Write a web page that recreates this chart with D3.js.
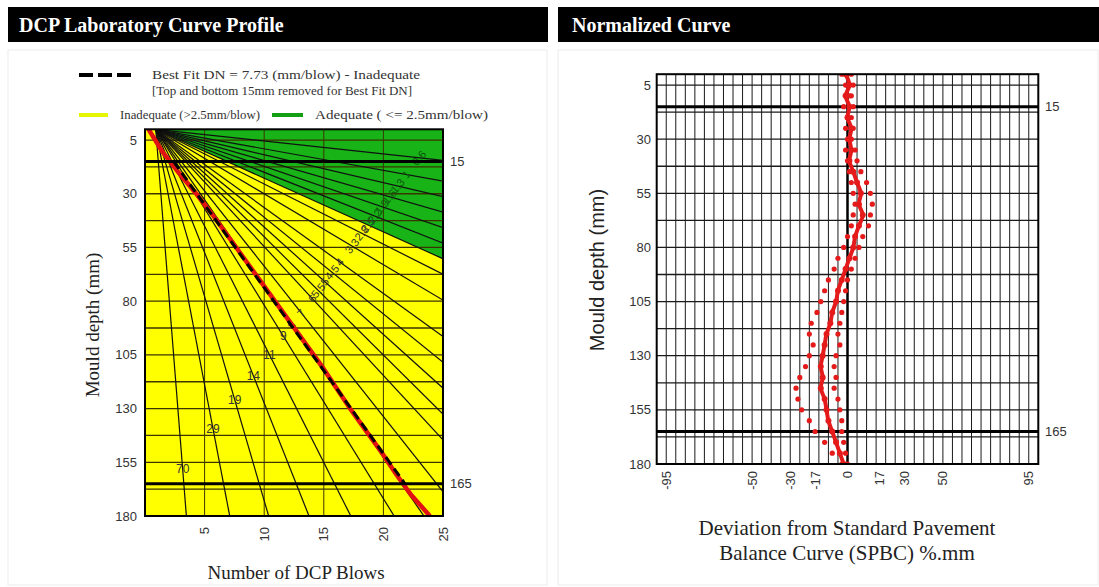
<!DOCTYPE html>
<html>
<head>
<meta charset="utf-8">
<script src="https://cdn.jsdelivr.net/npm/d3@7/dist/d3.min.js"></script>
<style>
  html, body { margin: 0; padding: 0; background: #ffffff; }
  svg { display: block; }
</style>
</head>
<body>
<svg id="chart" width="1099" height="587"></svg>
<script>
// ---- Data -------------------------------------------------------------
// Depth ticks (mm) shared by both panels
const depthTicks = [5, 30, 55, 80, 105, 130, 155, 180];
// Horizontal grid depths (every 12.5 mm)
const gridDepths = [5, 17.5, 30, 42.5, 55, 67.5, 80, 92.5, 105, 117.5, 130, 142.5, 155, 167.5, 180];
// Layer limits used for the best fit
const layerLimits = [15, 165];

// Left panel: number of blows ticks
const blowTicks = [5, 10, 15, 20, 25];
// Measured DCP curve: depth (mm) and cumulative blows
const curveDepth = [0, 10, 20, 30, 40, 50, 60, 70, 80, 90, 100, 110, 120, 130, 140, 150, 160, 170, 180];
const curveBlows = [0.3, 1.4, 2.8, 4.3, 5.7, 7.0, 8.3, 9.6, 10.9, 12.2, 13.5, 14.8, 16.0, 17.2, 18.5, 19.8, 21.0, 22.3, 23.9];
// Best fit penetration rate (mm/blow)
const bestFitDN = 7.73;
// DN reference lines (mm/blow)
const fanDN = [70, 29, 19, 14, 11, 9, 8, 7, 6, 5.5, 5, 4.5, 4, 3.3, 2.8, 2.5, 2.2, 1.9, 1.6, 1.3, 1, 0.6];
const adequateLimitDN = 2.5;

// Right panel: deviation from SPBC
const devTicks = [-95, -50, -30, -17, 0, 17, 30, 50, 95];
const devDepth = [0, 5, 10, 15, 20, 25, 30, 35, 40, 45, 50, 55, 60, 65, 70, 75, 80, 85, 90, 95, 100, 105, 110, 115, 120, 125, 130, 135, 140, 145, 150, 155, 160, 165, 170, 175, 180];
const devMain  = [-1, 1, -1, 1, 0, 2, 1, 2, 1, 3, 5, 7, 6, 8, 6, 4, 3, 1, -1, -3, -5, -6, -8, -9, -11, -12, -13, -14, -13, -14, -12, -11, -10, -8, -6, -4, -2];
const devLow   = [-3, -1, 2, -2, 0, -1, 0, -1, 0, 1, 2, 3, 4, 3, 2, 0, -2, -5, -7, -10, -12, -14, -16, -19, -20, -18, -20, -22, -25, -27, -26, -24, -20, -17, -12, -8, -3];
const devHigh  = [2, 3, 1, 3, 2, 3, 2, 4, 5, 7, 10, 12, 13, 12, 11, 8, 6, 4, 2, 0, -1, -2, -3, -4, -5, -4, -6, -7, -6, -7, -5, -4, -3, -3, -2, -1, 0];

// ---- Setup ------------------------------------------------------------
const svg = d3.select("#chart");
const serif = "'Liberation Serif', 'DejaVu Serif', serif";
const sans = "'Liberation Sans', Arial, sans-serif";

// Panel frames and title bars
const panels = [
  { x: 8, w: 540, title: "DCP Laboratory Curve Profile", tx: 19 },
  { x: 558, w: 541, title: "Normalized Curve", tx: 572 }
];
panels.forEach(p => {
  svg.append("rect").attr("x", p.x).attr("y", 50).attr("width", p.w - 1).attr("height", 535)
    .attr("fill", "none").attr("stroke", "#ececec");
  svg.append("rect").attr("x", p.x).attr("y", 7).attr("width", p.w).attr("height", 35).attr("fill", "#000");
  svg.append("text").attr("x", p.tx).attr("y", 32).text(p.title)
    .attr("fill", "#fff").attr("font-family", serif).attr("font-weight", "bold").attr("font-size", 20);
});

// ---- Left panel: DCP curve profile ------------------------------------
const xL = d3.scaleLinear().domain([0, 25]).range([145, 443]);
const yL = d3.scaleLinear().domain([0, 180]).range([129.3, 516]);
const L = svg.append("g");

L.append("clipPath").attr("id", "clipL").append("rect")
  .attr("x", xL(0)).attr("y", yL(0)).attr("width", xL(25) - xL(0)).attr("height", yL(180) - yL(0));
const plotL = L.append("g").attr("clip-path", "url(#clipL)");

// Zone fills: inadequate (yellow) everywhere, adequate (green) above the limit line
const pivot = 0.9;
plotL.append("rect").attr("x", xL(0)).attr("y", yL(0)).attr("width", xL(25) - xL(0)).attr("height", yL(180) - yL(0))
  .attr("fill", "#ffff00");
plotL.append("path")
  .attr("d", d3.line()([[xL(pivot), yL(0)], [xL(25), yL(adequateLimitDN * (25 - pivot))], [xL(25), yL(0)]]))
  .attr("fill", "#17b317");

// Grid
plotL.selectAll(".hgrid").data(gridDepths).join("line")
  .attr("x1", xL(0)).attr("x2", xL(25)).attr("y1", d => yL(d)).attr("y2", d => yL(d))
  .attr("stroke", "#3d3500").attr("stroke-width", 1.3);
plotL.selectAll(".vgrid").data(blowTicks.slice(0, 4)).join("line")
  .attr("x1", d => xL(d)).attr("x2", d => xL(d)).attr("y1", yL(0)).attr("y2", yL(180))
  .attr("stroke", "#3d3500").attr("stroke-width", 1);

// DN reference lines radiating from the start point
plotL.selectAll(".fan").data(fanDN).join("line")
  .attr("x1", xL(pivot)).attr("y1", yL(0))
  .attr("x2", d => xL(pivot + 200 / d)).attr("y2", yL(200))
  .attr("stroke", "#111").attr("stroke-width", 1.2);

// Fan labels placed along a guide line depth = 181 - 7.3 * blows
plotL.selectAll(".fanlab").data(fanDN).join("text")
  .attr("transform", d => {
    const b = (181 + pivot * d) / (d + 7.3);
    const dep = d * (b - pivot);
    return `translate(${xL(b)},${yL(dep)})` + (d < 8.5 ? " rotate(-50)" : "");
  })
  .attr("text-anchor", "middle").attr("dominant-baseline", "central")
  .attr("font-family", sans).attr("font-size", d => d < 8.5 ? 11 : 12)
  .attr("fill", d => d < adequateLimitDN ? "#0d5a0d" : "#333")
  .text(d => d);

// Layer limit lines
L.selectAll(".limL").data(layerLimits).join("line")
  .attr("x1", xL(0)).attr("x2", xL(25)).attr("y1", d => yL(d)).attr("y2", d => yL(d))
  .attr("stroke", "#000").attr("stroke-width", 3);

// Measured curve
const curvePts = curveDepth.map((d, i) => [curveBlows[i], d]);
plotL.append("path")
  .attr("d", d3.line().x(p => xL(p[0])).y(p => yL(p[1]))(curvePts))
  .attr("fill", "none").attr("stroke", "#e31212").attr("stroke-width", 4.5);

// Best fit line over the trimmed layer (fixed DN, least-squares intercept)
const fitPts = curvePts.filter(p => p[1] >= layerLimits[0] && p[1] <= layerLimits[1]);
const b0 = d3.mean(fitPts, p => p[0] - p[1] / bestFitDN);
plotL.append("line")
  .attr("x1", xL(b0 + layerLimits[0] / bestFitDN)).attr("y1", yL(layerLimits[0]))
  .attr("x2", xL(b0 + layerLimits[1] / bestFitDN)).attr("y2", yL(layerLimits[1]))
  .attr("stroke", "#000").attr("stroke-width", 3).attr("stroke-dasharray", "9,5");

// Border
L.append("rect").attr("x", xL(0)).attr("y", yL(0)).attr("width", xL(25) - xL(0)).attr("height", yL(180) - yL(0))
  .attr("fill", "none").attr("stroke", "#000").attr("stroke-width", 2);

// Axes labels
L.selectAll(".ytL").data(depthTicks).join("text")
  .attr("x", 137).attr("y", d => yL(d)).attr("text-anchor", "end").attr("dominant-baseline", "central")
  .attr("font-family", sans).attr("font-size", 13).attr("fill", "#333").text(d => d);
L.selectAll(".limLabL").data(layerLimits).join("text")
  .attr("x", 450).attr("y", d => yL(d)).attr("dominant-baseline", "central")
  .attr("font-family", sans).attr("font-size", 13).attr("fill", "#333").text(d => d);
L.selectAll(".xtL").data(blowTicks).join("text")
  .attr("transform", d => `translate(${xL(d)},527) rotate(-90)`)
  .attr("text-anchor", "end").attr("dominant-baseline", "central")
  .attr("font-family", sans).attr("font-size", 13).attr("fill", "#333").text(d => d);
L.append("text").attr("x", 296).attr("y", 579).attr("text-anchor", "middle")
  .attr("font-family", serif).attr("font-size", 19).attr("fill", "#222").text("Number of DCP Blows");
L.append("text").attr("transform", "translate(99,325) rotate(-90)").attr("text-anchor", "middle")
  .attr("font-family", serif).attr("font-size", 19).attr("fill", "#222").text("Mould depth (mm)");

// Legend
const lg = L.append("g").attr("font-family", serif).attr("font-size", 13).attr("fill", "#333");
lg.append("line").attr("x1", 79).attr("x2", 136).attr("y1", 75).attr("y2", 75)
  .attr("stroke", "#000").attr("stroke-width", 4).attr("stroke-dasharray", "14,5");
lg.append("text").attr("x", 152).attr("y", 79).attr("textLength", 268).attr("lengthAdjust", "spacingAndGlyphs")
  .text(`Best Fit DN = ${bestFitDN} (mm/blow) - Inadequate`);
lg.append("text").attr("x", 152).attr("y", 95).attr("textLength", 260).attr("lengthAdjust", "spacingAndGlyphs")
  .text("[Top and bottom 15mm removed for Best Fit DN]");
lg.append("line").attr("x1", 79).attr("x2", 108).attr("y1", 115).attr("y2", 115)
  .attr("stroke", "#e6f500").attr("stroke-width", 4);
lg.append("text").attr("x", 120).attr("y", 119).attr("textLength", 140).attr("lengthAdjust", "spacingAndGlyphs")
  .text("Inadequate (>2.5mm/blow)");
lg.append("line").attr("x1", 272).attr("x2", 303).attr("y1", 115).attr("y2", 115)
  .attr("stroke", "#12a012").attr("stroke-width", 4);
lg.append("text").attr("x", 315).attr("y", 119).attr("textLength", 173).attr("lengthAdjust", "spacingAndGlyphs")
  .text("Adequate ( <= 2.5mm/blow)");

// ---- Right panel: normalized curve ------------------------------------
const xR = d3.scaleLinear().domain([-100, 100]).range([656.7, 1038.3]);
const yR = d3.scaleLinear().domain([0, 180]).range([74.2, 464]);
const R = svg.append("g");

R.append("clipPath").attr("id", "clipR").append("rect")
  .attr("x", xR(-100)).attr("y", yR(0)).attr("width", xR(100) - xR(-100)).attr("height", yR(180) - yR(0));
const plotR = R.append("g").attr("clip-path", "url(#clipR)");

plotR.selectAll(".vg").data(d3.range(-95, 100, 5)).join("line")
  .attr("x1", d => xR(d)).attr("x2", d => xR(d)).attr("y1", yR(0)).attr("y2", yR(180))
  .attr("stroke", "#1a1a1a").attr("stroke-width", 1);
plotR.selectAll(".hg").data(gridDepths).join("line")
  .attr("x1", xR(-100)).attr("x2", xR(100)).attr("y1", d => yR(d)).attr("y2", d => yR(d))
  .attr("stroke", "#1a1a1a").attr("stroke-width", 1.3);
plotR.selectAll(".limR").data(layerLimits).join("line")
  .attr("x1", xR(-100)).attr("x2", xR(100)).attr("y1", d => yR(d)).attr("y2", d => yR(d))
  .attr("stroke", "#000").attr("stroke-width", 3);
plotR.append("line").attr("x1", xR(0)).attr("x2", xR(0)).attr("y1", yR(0)).attr("y2", yR(180))
  .attr("stroke", "#000").attr("stroke-width", 2.5);

// Deviation series
const red = "#e51b1b";
[devLow, devHigh].forEach(series => {
  plotR.append("g").selectAll("circle").data(devDepth).join("circle")
    .attr("cx", (d, i) => xR(series[i])).attr("cy", d => yR(d)).attr("r", 2.6).attr("fill", red);
});
plotR.append("path")
  .attr("d", d3.line().x((d, i) => xR(devMain[i])).y(d => yR(d)).curve(d3.curveCatmullRom)(devDepth))
  .attr("fill", "none").attr("stroke", red).attr("stroke-width", 4);
plotR.append("g").selectAll("circle").data(devDepth).join("circle")
  .attr("cx", (d, i) => xR(devMain[i])).attr("cy", d => yR(d)).attr("r", 3).attr("fill", red);

R.append("rect").attr("x", xR(-100)).attr("y", yR(0)).attr("width", xR(100) - xR(-100)).attr("height", yR(180) - yR(0))
  .attr("fill", "none").attr("stroke", "#000").attr("stroke-width", 2);

R.selectAll(".ytR").data(depthTicks).join("text")
  .attr("x", 651).attr("y", d => yR(d)).attr("text-anchor", "end").attr("dominant-baseline", "central")
  .attr("font-family", sans).attr("font-size", 13).attr("fill", "#333").text(d => d);
R.selectAll(".limLabR").data(layerLimits).join("text")
  .attr("x", 1045).attr("y", d => yR(d)).attr("dominant-baseline", "central")
  .attr("font-family", sans).attr("font-size", 13).attr("fill", "#333").text(d => d);
R.selectAll(".xtR").data(devTicks).join("text")
  .attr("transform", d => `translate(${xR(d)},471) rotate(-90)`)
  .attr("text-anchor", "end").attr("dominant-baseline", "central")
  .attr("font-family", sans).attr("font-size", 13).attr("fill", "#333").text(d => d);
R.append("text").attr("transform", "translate(604,270) rotate(-90)").attr("text-anchor", "middle")
  .attr("font-family", sans).attr("font-size", 20).attr("fill", "#222").text("Mould depth (mm)");
R.append("text").attr("x", 847).attr("y", 535).attr("text-anchor", "middle")
  .attr("font-family", serif).attr("font-size", 21).attr("fill", "#222").text("Deviation from Standard Pavement");
R.append("text").attr("x", 847).attr("y", 560).attr("text-anchor", "middle")
  .attr("font-family", serif).attr("font-size", 21).attr("fill", "#222").text("Balance Curve (SPBC) %.mm");
</script>
</body>
</html>
